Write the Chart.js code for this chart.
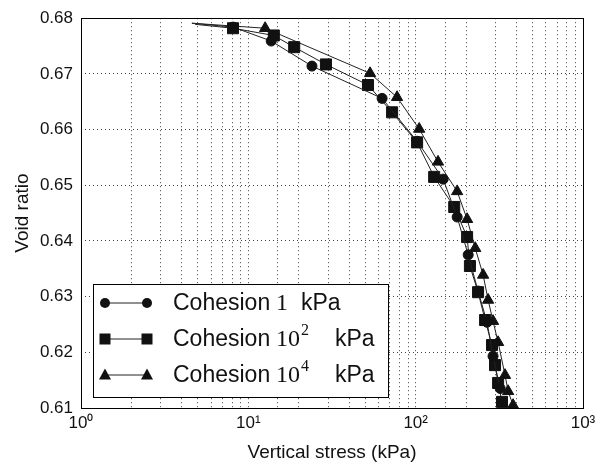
<!DOCTYPE html>
<html>
<head>
<meta charset="utf-8">
<script src="https://cdn.jsdelivr.net/npm/chart.js@4.4.0/dist/chart.umd.min.js"></script>
<style>
  html, body { margin: 0; padding: 0; background: #fff; }
  #wrap { width: 606px; height: 464px; }
</style>
</head>
<body>
<div id="wrap"><canvas id="myChart" width="606" height="464"></canvas></div>
<script>
// stress (kPa) / void ratio; first point of each is the line start (no marker)
const stress1 = [4.6, 8.1, 13.7, 24.0, 63.0, 102, 146, 177, 206, 236, 267, 290, 320];
const void1   = [0.6791, 0.6784, 0.6759, 0.6714, 0.6656, 0.6579, 0.6511, 0.6443, 0.6375, 0.6310, 0.6254, 0.6193, 0.6135];

const stress2 = [4.8, 8.1, 14.2, 18.8, 29.1, 51.9, 72.3, 102, 129, 170, 203, 211, 236, 260, 286, 298, 311, 328];
const void2   = [0.6789, 0.6782, 0.6769, 0.6748, 0.6717, 0.6680, 0.6631, 0.6577, 0.6515, 0.6461, 0.6407, 0.6355, 0.6308, 0.6258, 0.6213, 0.6177, 0.6145, 0.6111];

const stress3 = [4.6, 12.6, 53.4, 77.4, 105, 136, 177, 203, 227, 253, 271, 290, 311, 342, 357, 382];
const void3   = [0.6791, 0.6782, 0.6701, 0.6658, 0.6601, 0.6542, 0.6489, 0.6439, 0.6387, 0.6339, 0.6294, 0.6256, 0.6218, 0.6159, 0.6130, 0.6105];

const xDecades = [1, 10, 100, 1000];
const supDigits = ['⁰', '¹', '²', '³'];

const legendRows = [
  { name: 'Cohesion', num: '1', sup: '', style: 'circle' },
  { name: 'Cohesion', num: '10', sup: '2', style: 'rect' },
  { name: 'Cohesion', num: '10', sup: '4', style: 'triangle' }
];

const sansFont = '"Liberation Sans", Arial, sans-serif';
const serifFont = '"Liberation Serif", "Times New Roman", serif';

function toPoints(xs, ys) {
  return xs.map((x, i) => ({ x: x, y: ys[i] }));
}

function makeSet(label, xs, ys, style, r) {
  return {
    label: label,
    data: toPoints(xs, ys),
    borderColor: '#222',
    borderWidth: 1,
    backgroundColor: '#111',
    pointBackgroundColor: '#111',
    pointBorderColor: '#111',
    pointStyle: style,
    pointRadius: ctx => ctx.dataIndex === 0 ? 0 : r,
    pointBorderWidth: 1,
    tension: 0,
    fill: false
  };
}

function drawMarker(ctx, style, x, y) {
  ctx.beginPath();
  if (style === 'circle') {
    ctx.arc(x, y, 5, 0, Math.PI * 2);
  } else if (style === 'rect') {
    ctx.rect(x - 5.5, y - 5.5, 11, 11);
  } else {
    ctx.moveTo(x, y - 6.5);
    ctx.lineTo(x + 6, y + 4.5);
    ctx.lineTo(x - 6, y + 4.5);
    ctx.closePath();
  }
  ctx.fill();
}

const frameAndLegend = {
  id: 'frameAndLegend',
  afterDraw(chart) {
    const ctx = chart.ctx;
    const a = chart.chartArea;
    ctx.save();
    // plot frame
    ctx.strokeStyle = '#000';
    ctx.lineWidth = 1;
    ctx.strokeRect(Math.round(a.left) + 0.5, Math.round(a.top) + 0.5,
      Math.round(a.right - a.left), Math.round(a.bottom - a.top));

    // legend box
    const bx = 93, by = 284, bw = 295, bh = 113;
    ctx.fillStyle = '#fff';
    ctx.fillRect(bx, by, bw, bh);
    ctx.strokeRect(bx + 0.5, by + 0.5, bw, bh);

    legendRows.forEach((row, i) => {
      const y = 303 + i * 36;
      ctx.strokeStyle = '#222';
      ctx.beginPath();
      ctx.moveTo(105, y);
      ctx.lineTo(147, y);
      ctx.stroke();
      ctx.fillStyle = '#111';
      drawMarker(ctx, row.style, 105, y);
      drawMarker(ctx, row.style, 147, y);

      ctx.fillStyle = '#111';
      ctx.textBaseline = 'middle';
      ctx.textAlign = 'left';
      ctx.font = '23px ' + sansFont;
      ctx.fillText(row.name, 173, y + 1);
      ctx.font = '24px ' + serifFont;
      ctx.fillText(row.num, 276, y + 1);
      let kx = 301;
      if (row.sup) {
        const w = ctx.measureText(row.num).width;
        ctx.font = '16px ' + serifFont;
        ctx.fillText(row.sup, 276 + w + 1, y - 8);
        kx = 335;
      }
      ctx.font = '23px ' + sansFont;
      ctx.fillText('kPa', kx, y + 1);
    });
    ctx.restore();
  }
};

const ctx = document.getElementById('myChart').getContext('2d');
new Chart(ctx, {
  type: 'line',
  data: {
    datasets: [
      makeSet('Cohesion 1 kPa', stress1, void1, 'circle', 5),
      makeSet('Cohesion 10^2 kPa', stress2, void2, 'rect', 7.8),
      makeSet('Cohesion 10^4 kPa', stress3, void3, 'triangle', 6.5)
    ]
  },
  options: {
    responsive: false,
    animation: false,
    layout: { padding: { top: 18, right: 23, left: 0, bottom: 0 } },
    plugins: {
      legend: { display: false },
      tooltip: { enabled: false }
    },
    scales: {
      x: {
        type: 'logarithmic',
        min: 1,
        max: 1000,
        afterFit: s => { s.height = 56; },
        grid: {
          color: 'rgba(0,0,0,0.75)',
          drawTicks: false
        },
        border: { display: false, dash: [1, 3] },
        ticks: {
          autoSkip: false,
          maxRotation: 0,
          padding: 5,
          color: '#111',
          font: { family: sansFont, size: 17 },
          callback: function (v) {
            const k = xDecades.indexOf(v);
            return k >= 0 ? '10' + supDigits[k] : '';
          }
        },
        title: {
          display: true,
          text: 'Vertical stress (kPa)',
          color: '#111',
          font: { family: sansFont, size: 19 },
          padding: { top: 0, bottom: 0 }
        }
      },
      y: {
        min: 0.61,
        max: 0.68,
        afterFit: s => { s.width = 81; },
        grid: {
          color: 'rgba(0,0,0,0.75)',
          drawTicks: false
        },
        border: { display: false, dash: [1, 3] },
        ticks: {
          stepSize: 0.01,
          padding: 8,
          color: '#111',
          font: { family: sansFont, size: 17 },
          callback: v => Number(v).toFixed(2)
        },
        title: {
          display: true,
          text: 'Void ratio',
          color: '#111',
          font: { family: sansFont, size: 19 },
          padding: { top: 11, bottom: 0 }
        }
      }
    }
  },
  plugins: [frameAndLegend]
});
</script>
</body>
</html>
